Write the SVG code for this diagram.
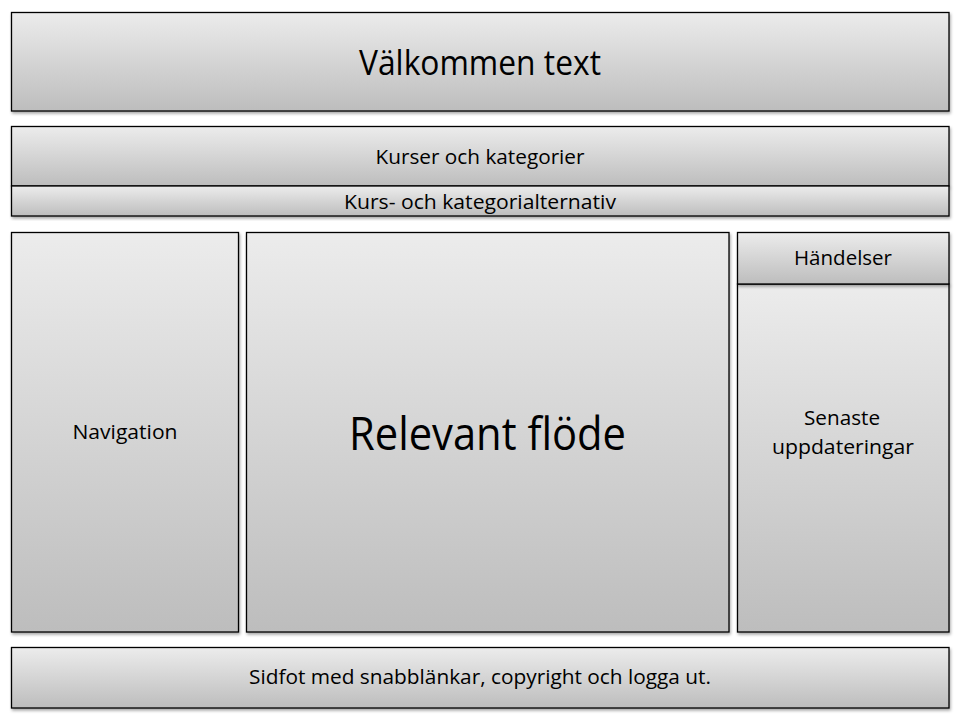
<svg xmlns="http://www.w3.org/2000/svg" width="960" height="720" viewBox="0 0 960 720">
<defs>
<linearGradient id="g" x1="0" y1="0" x2="0" y2="1">
<stop offset="0" stop-color="#ececec"/>
<stop offset="1" stop-color="#bdbdbd"/>
</linearGradient>
<filter id="sh" x="-5%" y="-5%" width="110%" height="120%">
<feDropShadow dx="1" dy="2" stdDeviation="1.5" flood-color="#000" flood-opacity="0.35"/>
</filter>
</defs>
<style>
.box{fill:url(#g);stroke:#000;stroke-width:1.3;filter:url(#sh)}
text{font-family:"Open Sans","Liberation Sans",sans-serif;fill:#000;text-anchor:middle}
.s{font-size:20px}
</style>
<rect width="960" height="720" fill="#fff"/>
<g id="welcome"><rect class="box" x="11.5" y="12.5" width="937.5" height="98.5"/><text x="480" y="75" font-size="34" textLength="242" lengthAdjust="spacingAndGlyphs">Välkommen text</text></g>
<g id="kurser"><rect class="box" x="11.5" y="126.5" width="937.5" height="59.5"/><text class="s" x="480" y="164" textLength="209" lengthAdjust="spacingAndGlyphs">Kurser och kategorier</text></g>
<g id="kursalt"><rect class="box" x="11.5" y="186" width="937.5" height="30"/><text class="s" x="480" y="209" textLength="272" lengthAdjust="spacingAndGlyphs">Kurs- och kategorialternativ</text></g>
<g id="navigation"><rect class="box" x="11.5" y="232.5" width="227" height="399.5"/><text class="s" x="125" y="439" textLength="105" lengthAdjust="spacingAndGlyphs">Navigation</text></g>
<g id="relevant"><rect class="box" x="246.5" y="232.5" width="482.5" height="399.5"/><text x="487.5" y="450" font-size="46" textLength="277" lengthAdjust="spacingAndGlyphs">Relevant flöde</text></g>
<g id="senaste"><rect class="box" x="737.5" y="284" width="211.5" height="348"/><text class="s" x="842" y="425" textLength="76" lengthAdjust="spacingAndGlyphs">Senaste</text><text class="s" x="843" y="454" textLength="142" lengthAdjust="spacingAndGlyphs">uppdateringar</text></g>
<g id="handelser"><rect class="box" x="737.5" y="232.5" width="211.5" height="51.5"/><text class="s" x="843" y="265" textLength="98" lengthAdjust="spacingAndGlyphs">Händelser</text></g>
<g id="footer"><rect class="box" x="11.5" y="647.5" width="937.5" height="60.5"/><text class="s" x="480" y="684" textLength="462" lengthAdjust="spacingAndGlyphs">Sidfot med snabblänkar, copyright och logga ut.</text></g>
<g id="connectors"/>
</svg>
